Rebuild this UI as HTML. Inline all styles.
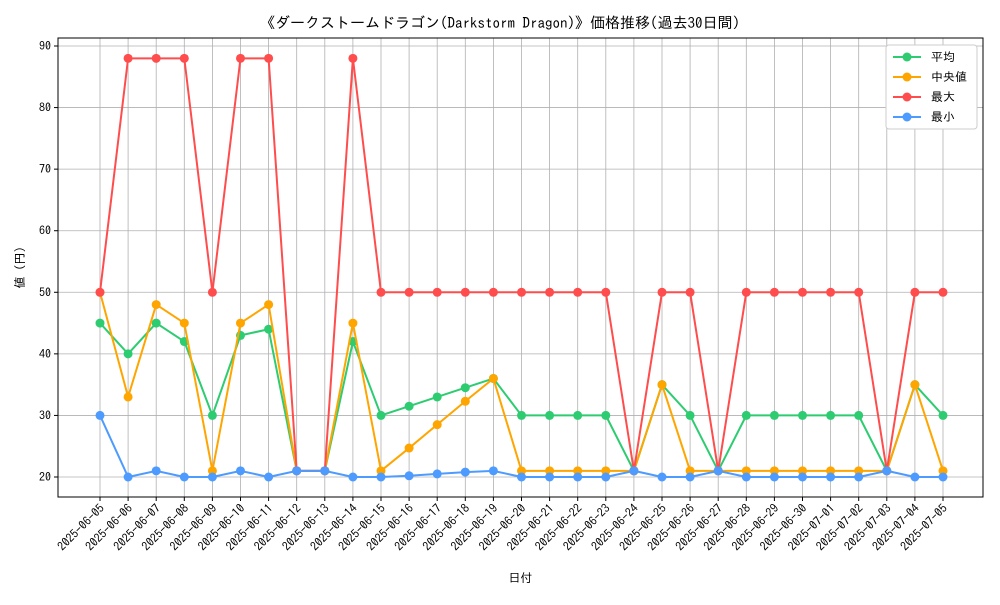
<!DOCTYPE html>
<html><head><meta charset="utf-8">
<style>
body{margin:0;background:#fff;}
svg text{font-family:"IPAGothic","Noto Sans CJK JP",sans-serif;}
</style></head>
<body>
<svg id="chart" width="1000" height="600" xmlns="http://www.w3.org/2000/svg">
<rect width="1000" height="600" fill="#fff"/>
<text x="500" y="28" text-anchor="middle" font-size="15" fill="#000">《ダークストームドラゴン(Darkstorm Dragon)》価格推移(過去30日間)</text>
<g id="grid"></g>
<g id="axes"></g>
<g id="series"></g>
<g id="legend"></g>
</svg>
<script>
const dates=["2025-06-05","2025-06-06","2025-06-07","2025-06-08","2025-06-09","2025-06-10","2025-06-11","2025-06-12","2025-06-13","2025-06-14","2025-06-15","2025-06-16","2025-06-17","2025-06-18","2025-06-19","2025-06-20","2025-06-21","2025-06-22","2025-06-23","2025-06-24","2025-06-25","2025-06-26","2025-06-27","2025-06-28","2025-06-29","2025-06-30","2025-07-01","2025-07-02","2025-07-03","2025-07-04","2025-07-05"];
const meanVals=[45,40,45,42,30,43,44,21,21,42,30,31.5,33,34.5,36,30,30,30,30,21,35,30,21,30,30,30,30,30,21,35,30];
const medianVals=[50,33,48,45,21,45,48,21,21,45,21,24.7,28.5,32.3,36,21,21,21,21,21,35,21,21,21,21,21,21,21,21,35,21];
const maxVals=[50,88,88,88,50,88,88,21,21,88,50,50,50,50,50,50,50,50,50,21,50,50,21,50,50,50,50,50,21,50,50];
const minVals=[30,20,21,20,20,21,20,21,21,20,20,20.2,20.5,20.8,21,20,20,20,20,21,20,20,21,20,20,20,20,20,21,20,20];
const yTicks=[20,30,40,50,60,70,80,90];
const seriesNames=["平均","中央値","最大","最小"];
const colors=["#2ecc71","#ffa500","#ff4d4d","#4d9bff"];

const NS="http://www.w3.org/2000/svg";
const L=58,R=983,T=38,B=497;
const x=i=>100+i*(943-100)/(dates.length-1);
const y=v=>477-(v-20)*(477-46)/70;
function mk(tag,attrs,parent){const e=document.createElementNS(NS,tag);for(const k in attrs)e.setAttribute(k,attrs[k]);parent.appendChild(e);return e;}
const grid=document.getElementById('grid'),axes=document.getElementById('axes'),ser=document.getElementById('series'),leg=document.getElementById('legend');
dates.forEach((d,i)=>{
  const gl=mk('line',{x1:x(i),x2:x(i),y1:T,y2:B,stroke:'#b0b0b0','stroke-width':0.8},grid);
  
  mk('line',{x1:x(i),x2:x(i),y1:B,y2:B+4,stroke:'#000'},axes);
  const t=mk('text',{x:x(i)+5,y:B+12,'font-size':12,'text-anchor':'end',transform:`rotate(-45 ${x(i)+5} ${B+12})`},axes);
  
  t.textContent=d;
});
yTicks.forEach(v=>{
  const gl=mk('line',{x1:L,x2:R,y1:y(v),y2:y(v),stroke:'#b0b0b0','stroke-width':0.8},grid);
  
  mk('line',{x1:L-4,x2:L,y1:y(v),y2:y(v),stroke:'#000'},axes);
  const t=mk('text',{x:L-7,y:y(v)+4,'font-size':12,'text-anchor':'end'},axes);
  
  t.textContent=v;
});
const fr=mk('rect',{x:L,y:T,width:R-L,height:B-T,fill:'none',stroke:'#000','stroke-width':1},axes);

const xt=mk('text',{x:(L+R)/2,y:582,'font-size':12,'text-anchor':'middle'},axes);
xt.textContent='日付';
const yt=mk('text',{x:24,y:(T+B)/2,'font-size':12,'text-anchor':'middle',transform:`rotate(-90 24 ${(T+B)/2})`},axes);
yt.textContent='値 (円)';
[meanVals,medianVals,maxVals,minVals].forEach((vals,s)=>{
  const pl=mk('polyline',{points:vals.map((v,i)=>x(i)+','+y(v)).join(' '),fill:'none',stroke:colors[s],'stroke-width':2},ser);
  
  vals.forEach((v,i)=>{const c=mk('circle',{cx:x(i),cy:y(v),r:4.5,fill:colors[s]},ser);
    });
});
const lb=mk('rect',{x:886,y:45,width:91,height:84,rx:3,fill:'#fff',stroke:'#ccc'},leg);

seriesNames.forEach((n,s)=>{
  const yy=57+s*20;
  const g=mk('g',{},leg);
  
  mk('line',{x1:893,x2:921,y1:yy,y2:yy,stroke:colors[s],'stroke-width':2},g);
  mk('circle',{cx:907,cy:yy,r:4.5,fill:colors[s]},g);
  const t=mk('text',{x:931,y:yy+4,'font-size':12},g);
  t.textContent=(s==1?' ':'')+n;
});
</script>
</body></html>
